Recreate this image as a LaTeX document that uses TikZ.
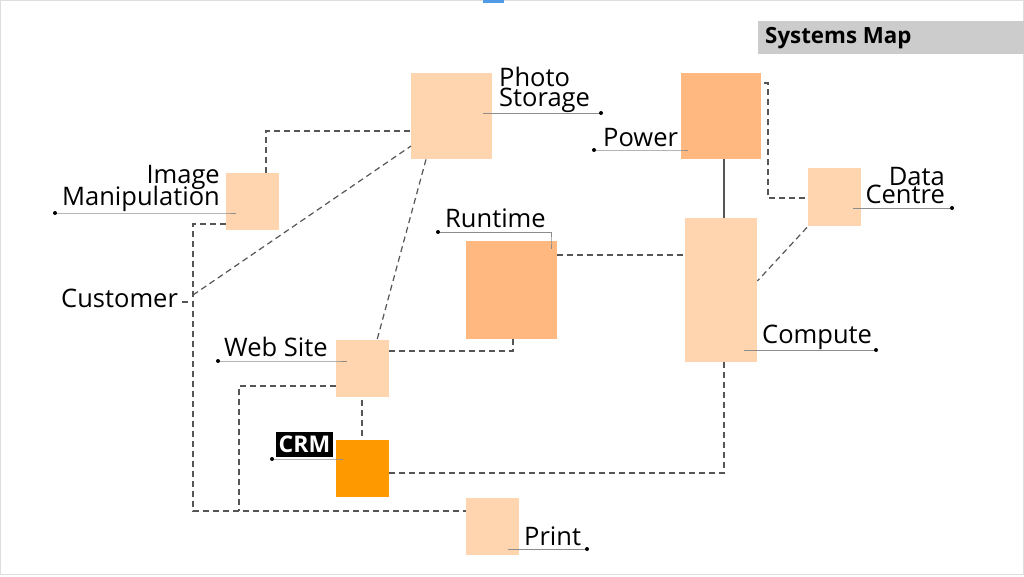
\documentclass[tikz,border=0pt]{standalone}
\usepackage{fontspec}
\setmainfont{Open Sans}
\begin{document}
\begin{tikzpicture}[x=1pt,y=-1pt,
  box/.style={draw=none,inner sep=0pt,anchor=north west},
  light/.style={box,fill=peachL},
  dark/.style={box,fill=peachD},
  lbl/.style={inner sep=0pt,font=\fontsize{25.5}{25.5}\selectfont,text=black},
  conn/.style={draw=lineG,line width=1.2pt,dash pattern=on 6pt off 4pt},
  leader/.style={draw=leadG,line width=1pt},
  dotc/.style={fill=black}]
\definecolor{peachL}{HTML}{FED5AE}
\definecolor{peachD}{HTML}{FFB880}
\definecolor{crmO}{HTML}{FF9900}
\definecolor{lineG}{HTML}{555555}
\definecolor{leadG}{HTML}{8C8C8C}
\definecolor{barG}{HTML}{CCCCCC}
\definecolor{frameG}{HTML}{DDDDDD}
\definecolor{blueB}{HTML}{4F9BE8}
\useasboundingbox (0,0) rectangle (1024,576);
\fill[white] (0,0) rectangle (1024,576);
\draw[frameG,line width=1pt] (0.5,0.5) rectangle (1023.5,574.5);
\fill[blueB] (483,0) rectangle (504,3);
% title
\fill[barG] (758,21) rectangle (1024,54);
\node[inner sep=0pt,anchor=base west,font=\fontsize{22.3}{22.3}\selectfont\bfseries] (title) at (765,43) {Systems Map};
% boxes
\node[light,minimum width=81pt,minimum height=86pt] (ps) at (411,73) {};
\node[dark,minimum width=80pt,minimum height=86pt] (pw) at (681,73) {};
\node[light,minimum width=53pt,minimum height=58pt] (dc) at (808,168) {};
\node[light,minimum width=53pt,minimum height=57pt] (im) at (226,173) {};
\node[dark,minimum width=91pt,minimum height=98pt] (rt) at (466,241) {};
\node[light,minimum width=72pt,minimum height=144pt] (cp) at (685,218) {};
\node[light,minimum width=53pt,minimum height=57pt] (ws) at (336,340) {};
\node[box,fill=crmO,minimum width=53pt,minimum height=57pt] (crm) at (336,440) {};
\node[light,minimum width=53pt,minimum height=57pt] (pr) at (466,498) {};
% labels
\node[lbl,anchor=base west] (psl1) at (499,86) {Photo};
\node[lbl,anchor=base west] (psl2) at (499,106) {Storage};
\node[lbl,anchor=base west] (pwl) at (603,146) {Power};
\node[lbl,anchor=base east] (dcl1) at (945,185) {Data};
\node[lbl,anchor=base east] (dcl2) at (945,203) {Centre};
\node[lbl,anchor=base east] (iml1) at (220,183) {Image};
\node[lbl,anchor=base east] (iml2) at (220,205) {Manipulation};
\node[lbl,anchor=base west] (rtl) at (445,227) {Runtime};
\node[lbl,anchor=base west] (cpl) at (762,343) {Compute};
\node[lbl,anchor=base west] (wsl) at (224,356) {Web Site};
\node[lbl,anchor=base west] (prl) at (524,545) {Print};
\node[lbl,anchor=base west] (cust) at (61,307) {Customer};
\node[fill=black,text=white,inner sep=0pt,minimum width=57pt,minimum height=25pt,font=\fontsize{23}{23}\selectfont\bfseries] (crml) at (304.5,444.5) {CRM};
% coordinates
\coordinate (lb) at (193,511);
\coordinate (wb) at (239,511);
\coordinate (cj) at (193,295);
\coordinate (dcb) at (768,198);
% connectors
\draw[conn] (im.north -| 266,0) |- (ps.west |- 0,131);
\draw[conn] (cust.east |- 0,302) ++(4,0) -- ++(10,0);
\draw[conn] (cj) -- (ps.west |- 0,146);
\draw[conn] (im.west |- 0,224) -| (lb) -- (pr.west |- lb);
\draw[conn] (ws.west |- 0,386) -| (wb);
\draw[conn] (ps.south -| 426,0) -- (ws.north -| 377,0);
\draw[conn] (rt.south -| 513,0) |- (ws.east |- 0,351);
\draw[conn] (rt.east |- 0,255) -- (cp.west |- 0,255);
\draw[conn] (ws.south -| 362,0) ++(0,3) -- (crm.north -| 362,0);
\draw[conn] (cp.south -| 724,0) |- (crm.east |- 0,473);
\draw[draw=lineG,line width=1.2pt] (pw.south -| 724,0) -- (cp.north -| 724,0);
\draw[conn] (pw.east |- 0,83) ++(3,0) -| (dcb) -- (dc.west |- dcb);
\draw[conn] (dc.south west) ++(-1,1) -- (cp.east |- 0,281);
% leaders
\coordinate (psd) at (601,113);
\coordinate (pwd) at (594,150);
\coordinate (dcd) at (952,208);
\coordinate (imd) at (55,213);
\coordinate (rtd) at (438,232);
\coordinate (cpd) at (876,350);
\coordinate (wsd) at (218,361);
\coordinate (crmd) at (272,459);
\coordinate (prd) at (587,549);
\draw[leader] (ps.east |- psd) ++(-9,0) -- (psd);
\draw[leader] (pwd) -- (pw.west |- pwd) -- ++(7,0);
\draw[leader] (dc.east |- dcd) ++(-8,0) -- (dcd);
\draw[leader] (imd) -- (im.west |- imd) -- ++(10,0);
\draw[leader] (rtd) -| (rt.north -| 551,0) -- ++(0,8);
\draw[leader] (cp.east |- cpd) ++(-13,0) -- (cpd);
\draw[leader] (wsd) -- (ws.west |- wsd) -- ++(11,0);
\draw[leader] (crmd) -- (crm.west |- crmd) -- ++(7,0);
\draw[leader] (pr.east |- prd) ++(-11,0) -- (prd);
\foreach \d in {psd,pwd,dcd,imd,rtd,cpd,wsd,crmd,prd} \fill[dotc] (\d) circle (2pt);
\end{tikzpicture}
\end{document}
